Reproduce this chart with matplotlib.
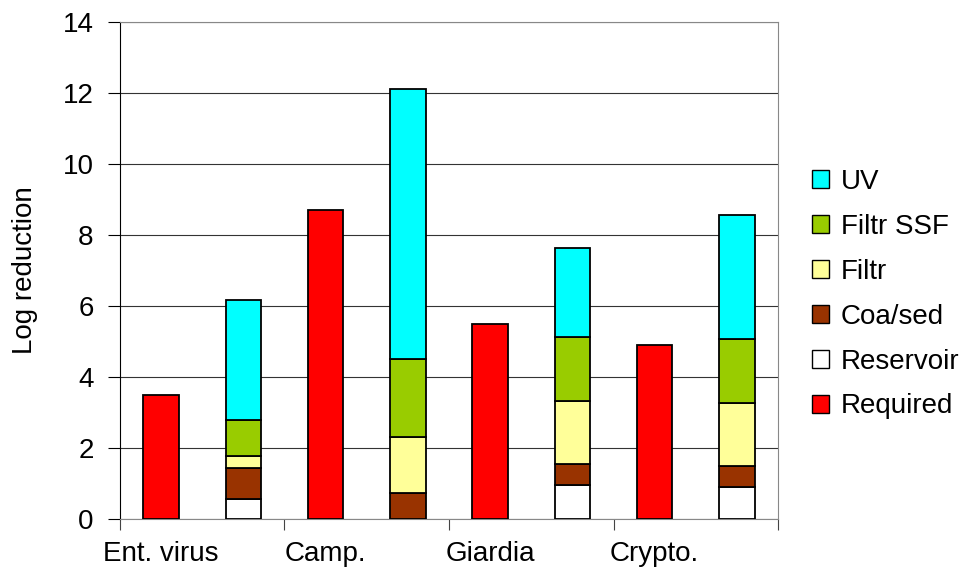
import matplotlib.pyplot as plt
from matplotlib.patches import Patch

plt.rcParams['font.family'] = ['Liberation Sans', 'DejaVu Sans']

# Eight slots: required bar and treatment stack for each pathogen
slot_labels = ["Ent. virus", "", "Camp.", "", "Giardia", "", "Crypto.", ""]
required = [3.5, 0, 8.7, 0, 5.5, 0, 4.9, 0]
reservoir = [0, 0.56, 0, 0.0, 0, 0.96, 0, 0.89]
coa_sed = [0, 0.88, 0, 0.74, 0, 0.59, 0, 0.61]
filtr = [0, 0.34, 0, 1.58, 0, 1.77, 0, 1.77]
filtr_ssf = [0, 1.0, 0, 2.2, 0, 1.82, 0, 1.81]
uv = [0, 3.4, 0, 7.6, 0, 2.5, 0, 3.48]

series = [
    ("Required", required, "#FF0000"),
    ("Reservoir", reservoir, "#FFFFFF"),
    ("Coa/sed", coa_sed, "#993300"),
    ("Filtr", filtr, "#FFFF99"),
    ("Filtr SSF", filtr_ssf, "#99CC00"),
    ("UV", uv, "#00FFFF"),
]

fig = plt.figure(figsize=(9.73, 5.69), dpi=100)
ax = fig.add_axes([0.1233, 0.0879, 0.6763, 0.8734])

x = list(range(len(slot_labels)))
bottom = [0.0] * len(x)
for name, vals, col in series:
    xs = [xi for xi, v in zip(x, vals) if v > 0]
    hs = [v for v in vals if v > 0]
    bs = [b for b, v in zip(bottom, vals) if v > 0]
    ax.bar(xs, hs, bottom=bs, width=0.43, color=col, edgecolor="black",
           linewidth=1.3, zorder=3)
    bottom = [b + v for b, v in zip(bottom, vals)]

ax.set_xlim(-0.5, 7.5)
ax.set_ylim(0, 14)
ax.set_yticks(range(0, 15, 2))
ax.yaxis.grid(True, color="#333333", linewidth=0.8, zorder=0)
ax.tick_params(axis="y", labelsize=20, length=9, pad=10, direction="out")

# tick marks between pathogen groups, labels under required bars
ax.set_xticks([-0.5, 1.5, 3.5, 5.5, 7.5])
ax.set_xticklabels([])
ax.tick_params(axis="x", which="major", length=8, color="#444444")
ax.set_xticks([0, 2, 4, 6], minor=True)
ax.set_xticklabels([slot_labels[i] for i in [0, 2, 4, 6]], minor=True)
ax.tick_params(axis="x", which="minor", length=0, labelsize=20, pad=16)

ax.set_ylabel("Log reduction", fontsize=20, labelpad=18)

for side in ["bottom", "right", "top"]:
    ax.spines[side].set_color("#888888")
ax.spines["left"].set_color("black")

handles = [Patch(facecolor=col, edgecolor="black", linewidth=1.0, label=name)
           for name, vals, col in reversed(series)]
fig.legend(handles=handles, loc="center left", bbox_to_anchor=(0.8345, 0.483),
           frameon=False, fontsize=20, handlelength=0.61, handleheight=0.61,
           handletextpad=0.43, labelspacing=0.68, borderpad=0, borderaxespad=0)

fig.savefig("out.png", dpi=100)
